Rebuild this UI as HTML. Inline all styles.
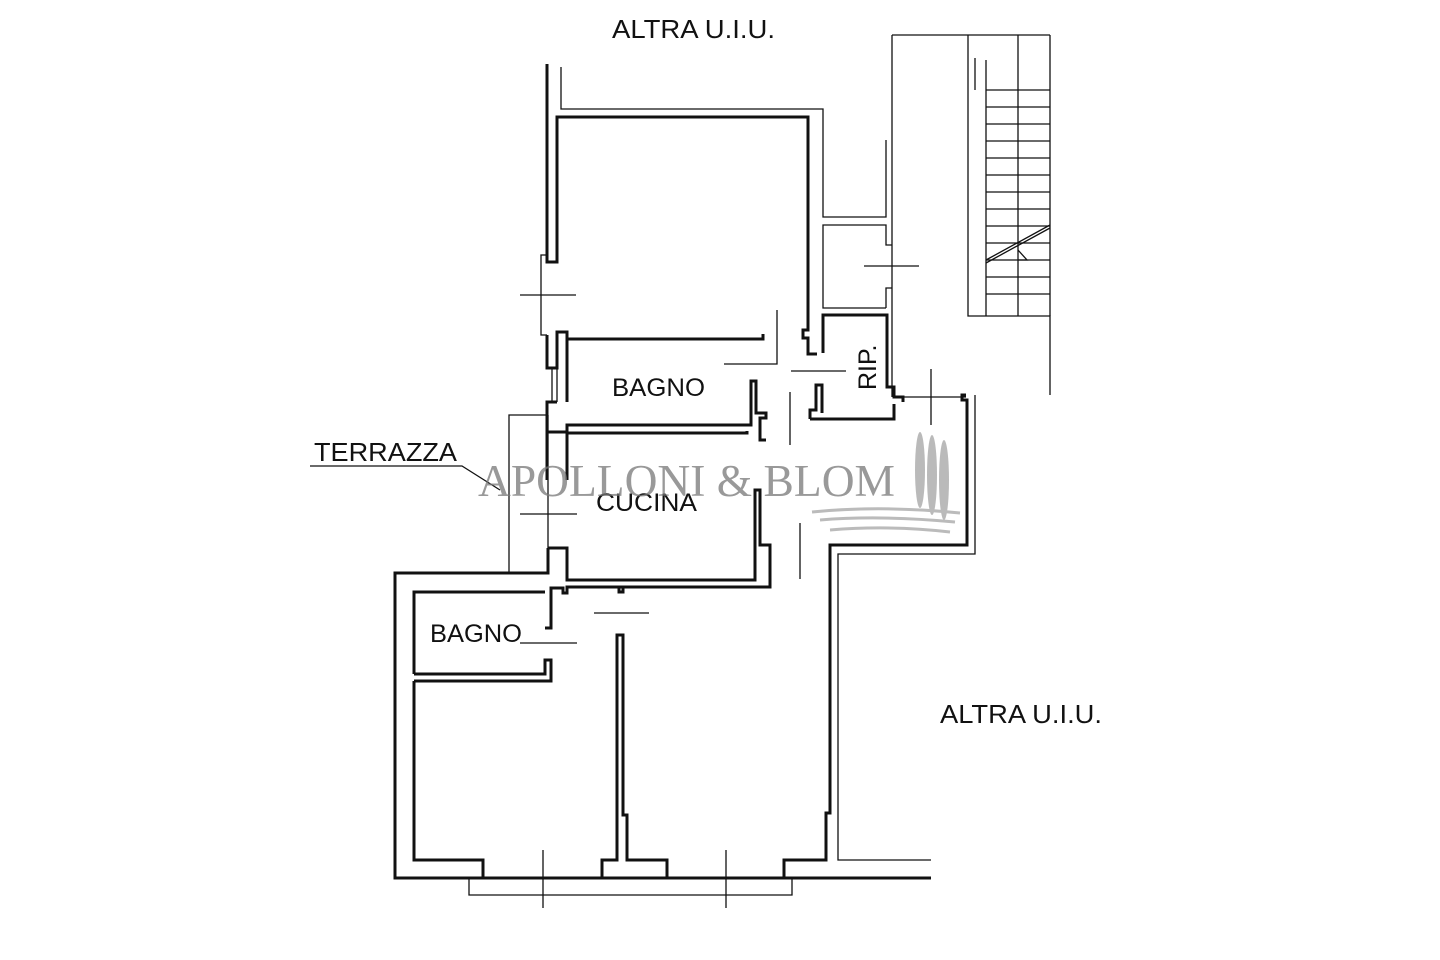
<!DOCTYPE html>
<html><head><meta charset="utf-8"><style>
html,body{margin:0;padding:0;background:#fff;}
svg{display:block}
text{font-family:"Liberation Sans",Arial,sans-serif;fill:#111}
</style></head><body>
<svg width="1440" height="960" viewBox="0 0 1440 960" xmlns="http://www.w3.org/2000/svg">
<g fill="none" stroke="#111" stroke-linejoin="miter">
<g stroke-width="1.3">
<polyline points="561,67 561,109 823,109 823,217 886,217 886,140"/>
<line x1="892" y1="35" x2="892" y2="397"/>
<polyline points="886,308 823,308 823,225 886,225 886,245 892,245"/>
<polyline points="886,308 886,288 892,288"/>
<line x1="864" y1="266" x2="919" y2="266"/>
<polyline points="968,35 968,316 1050,316 1050,395"/>
<line x1="986" y1="60" x2="986" y2="316"/>
<line x1="1018" y1="35" x2="1018" y2="316"/>
<polyline points="892,35 1050,35"/>
<line x1="1050" y1="35" x2="1050" y2="316"/>
<g>
<line x1="986" y1="90" x2="1050" y2="90"/><line x1="986" y1="107" x2="1050" y2="107"/><line x1="986" y1="124" x2="1050" y2="124"/><line x1="986" y1="141" x2="1050" y2="141"/><line x1="986" y1="158" x2="1050" y2="158"/><line x1="986" y1="175" x2="1050" y2="175"/><line x1="986" y1="192" x2="1050" y2="192"/><line x1="986" y1="209" x2="1050" y2="209"/><line x1="986" y1="226" x2="1050" y2="226"/><line x1="986" y1="243" x2="1050" y2="243"/><line x1="986" y1="260" x2="1050" y2="260"/><line x1="986" y1="277" x2="1050" y2="277"/><line x1="986" y1="294" x2="1050" y2="294"/>
</g>
<line x1="986" y1="260" x2="1050" y2="225"/><line x1="986" y1="263" x2="1050" y2="228"/>
<polyline points="1018,250 1027,260 1018,260"/>
<line x1="975" y1="58" x2="975" y2="90"/>
<polyline points="547,255 541,255 541,335 547,335"/>
<line x1="520" y1="295" x2="576" y2="295"/>
<polyline points="547,368 552,368 552,402"/><line x1="557" y1="368" x2="557" y2="402"/>
<polyline points="548,415 509,415 509,573"/>
<line x1="520" y1="514" x2="577" y2="514"/>
<line x1="548" y1="415" x2="548" y2="548"/>
<polyline points="777,310 777,364 724,364"/>
<line x1="791" y1="371" x2="846" y2="371"/>
<line x1="790" y1="392" x2="790" y2="445"/>
<line x1="931" y1="369" x2="931" y2="425"/>
<line x1="896" y1="397" x2="966" y2="397"/>
<line x1="800" y1="523" x2="800" y2="579"/>
<line x1="594" y1="613" x2="649" y2="613"/>
<line x1="520" y1="643" x2="577" y2="643"/>
<polyline points="975,395 975,554 838,554 838,860 931,860"/>
<polyline points="469,878 469,895 792,895 792,878"/>
<line x1="543" y1="850" x2="543" y2="908"/>
<line x1="726" y1="850" x2="726" y2="908"/>
</g>
<g stroke-width="3">
<polyline points="547,64 547,262 557,262 557,117 808,117 808,330 803,330 803,338 808,338 808,354 817,354"/>
<polyline points="823,353 823,315 887,315 887,387 894,387 894,397 903,397 903,402"/>
<polyline points="810,419 894,419 894,404"/>
<polyline points="810,419 810,410 816,410 816,385 822,385 822,413"/>
<polyline points="547,335 547,368 557,368 557,332 567,332 567,339 763,339 763,334"/>
<polyline points="567,339 567,402"/>
<polyline points="557,402 547,402 547,432 567,432 567,425 751,425 751,381 756,381 756,413 766,413 766,418 760,418 760,440 766,440"/>
<polyline points="567,425 567,432"/>
<polyline points="547,432 547,480"/>
<polyline points="567,433 747,433 747,431"/>
<polyline points="567,433 567,480"/>
<polyline points="548,548 567,548 567,580 755,580 755,490 760,490 760,545 770,545 770,587 567,587 567,593 563,593 563,588 551,588 551,628 545,628"/>
<polyline points="548,548 548,573 395,573 395,878 931,878"/>
<polyline points="414,681 414,860 483,860 483,878"/>
<polyline points="414,674 545,674 545,660 551,660 551,681 414,681"/>
<polyline points="414,674 414,592 545,592"/>
<polyline points="602,878 602,860 617,860 617,635 623,635 623,815 627,815 627,860 667,860 667,878"/>
<polyline points="784,878 784,860 826,860 826,813 830,813 830,545 967,545 967,400 962,400 962,395 966,395"/>
<polyline points="619,587 619,592 623,592 623,587"/>
</g>
</g>
<text x="612" y="38" font-size="26" textLength="163" lengthAdjust="spacingAndGlyphs">ALTRA U.I.U.</text>
<text x="940" y="723" font-size="26" textLength="162" lengthAdjust="spacingAndGlyphs">ALTRA U.I.U.</text>
<text x="612" y="396" font-size="25" textLength="93" lengthAdjust="spacingAndGlyphs">BAGNO</text>
<text x="430" y="642" font-size="25" textLength="92" lengthAdjust="spacingAndGlyphs">BAGNO</text>
<text x="596" y="511" font-size="25" textLength="101" lengthAdjust="spacingAndGlyphs">CUCINA</text>
<text x="314" y="461" font-size="26" textLength="143" lengthAdjust="spacingAndGlyphs">TERRAZZA</text>
<text transform="translate(876,390) rotate(-90)" font-size="25">RIP.</text>
<polyline points="310,466 462,466 500,490" fill="none" stroke="#111" stroke-width="1.3"/>
<text x="478" y="496" font-size="45" textLength="417" lengthAdjust="spacingAndGlyphs" style="font-family:'Liberation Serif',serif;fill:#777;opacity:0.75">APOLLONI &amp; BLOM</text>
<g fill="#aaa" opacity="0.8">
<ellipse cx="920" cy="470" rx="5" ry="38"/><ellipse cx="932" cy="475" rx="5" ry="40"/><ellipse cx="944" cy="480" rx="5" ry="40"/>
</g>
<g stroke="#bbb" stroke-width="3" fill="none">
<path d="M812,512 Q880,505 960,513"/><path d="M820,520 Q880,515 955,522"/><path d="M830,530 Q890,525 950,532"/>
</g>
</svg>
</body></html>
